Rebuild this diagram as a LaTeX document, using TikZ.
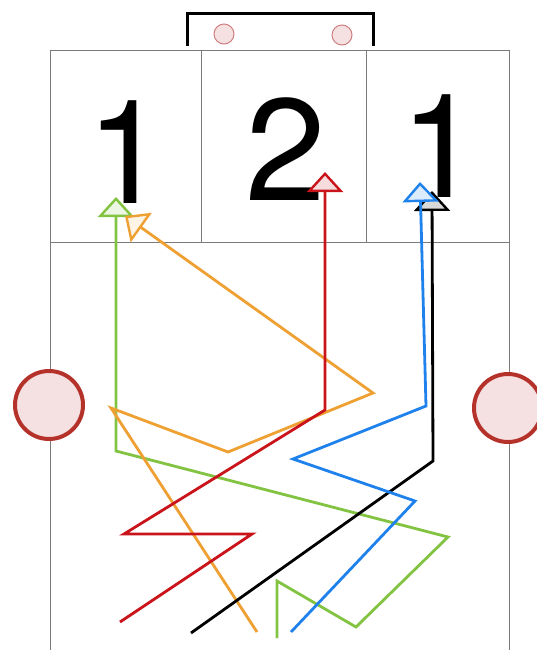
\documentclass[tikz,border=0pt]{standalone}
\usepackage{fontspec}
\setmainfont{TeX Gyre Heros}
\usetikzlibrary{arrows.meta}
\definecolor{cgreen}{HTML}{82C341}
\definecolor{corange}{HTML}{EFA032}
\definecolor{cred}{HTML}{C8141A}
\definecolor{cblue}{HTML}{1F82EC}
\definecolor{cring}{HTML}{B5322A}
\definecolor{cpink}{HTML}{F5E1E2}
\definecolor{csmall}{HTML}{CF7F80}
\definecolor{cgrid}{HTML}{7A7A7A}
\tikzset{
  grid/.style={draw=cgrid, line width=0.9pt},
  bigdot/.style={circle, draw=cring, fill=cpink, line width=4pt, minimum size=68pt, inner sep=0pt},
  smalldot/.style={circle, draw=csmall, fill=cpink, line width=1pt, minimum size=20pt, inner sep=0pt},
  digit/.style={font=\fontsize{145}{150}\selectfont, inner sep=0pt, anchor=base},
  route/.style={line width=2.8pt, line join=miter},
  tipof/.style={-{Triangle[length=20pt,width=36pt,line width=2.4pt,fill=#1]}},
}
\begin{document}
\begin{tikzpicture}[x=1pt,y=-1pt]
\useasboundingbox (0,0) rectangle (537,650);
% frame
\draw[grid] (50,50) rectangle (509,651);
\draw[grid] (50,242) -- (509,242);
\draw[grid] (201,50) -- (201,242);
\draw[grid] (366,50) -- (366,242);
% bracket
\draw[line width=3pt] (187,46) -- (187,14) -- (373,14) -- (373,46);
\node[smalldot] (s1) at (224,34) {};
\node[smalldot] (s2) at (342,35) {};
% big circles
\node[bigdot] (cl) at (49,405) {};
\node[bigdot] (cr) at (508,408) {};
% digits
\node[digit] (d1) at (127,203) {1};
\node[digit] (d2) at (286,200) {2};
\node[digit] (d3) at (441,197) {1};
% green
\coordinate (g0) at (277,638); \coordinate (g1) at (277,581); \coordinate (g2) at (356,627);
\coordinate (g3) at (448,537); \coordinate (g4) at (116,451); \coordinate (g5) at (116,197);
\draw[route, cgreen, tipof=cgreen!15] (g0) -- (g1) -- (g2) -- (g3) -- (g4) -- (g5);
% orange
\coordinate (o0) at (257,632); \coordinate (o1) at (111,408); \coordinate (o2) at (228,452);
\coordinate (o3) at (373,393); \coordinate (o4) at (125,216);
\draw[route, corange, tipof=corange!12] (o0) -- (o1) -- (o2) -- (o3) -- (o4);
% red
\coordinate (r0) at (120,622); \coordinate (r1) at (252,534); \coordinate (r2) at (124,534);
\coordinate (r3) at (325,410); \coordinate (r4) at (325,172);
\draw[route, cred, tipof=cred!15] (r0) -- (r1) -- (r2) -- (r3) -- (r4);
% black
\coordinate (k0) at (191,633); \coordinate (k1) at (433,461); \coordinate (k2) at (432,191);
\draw[route, black, tipof=black!15] (k0) -- (k1) -- (k2);
% blue
\coordinate (b0) at (291,632); \coordinate (b1) at (415,501); \coordinate (b2) at (293,459);
\coordinate (b3) at (426,406); \coordinate (b4) at (420,182);
\draw[route, cblue, tipof=cblue!15] (b0) -- (b1) -- (b2) -- (b3) -- (b4);
\end{tikzpicture}
\end{document}
